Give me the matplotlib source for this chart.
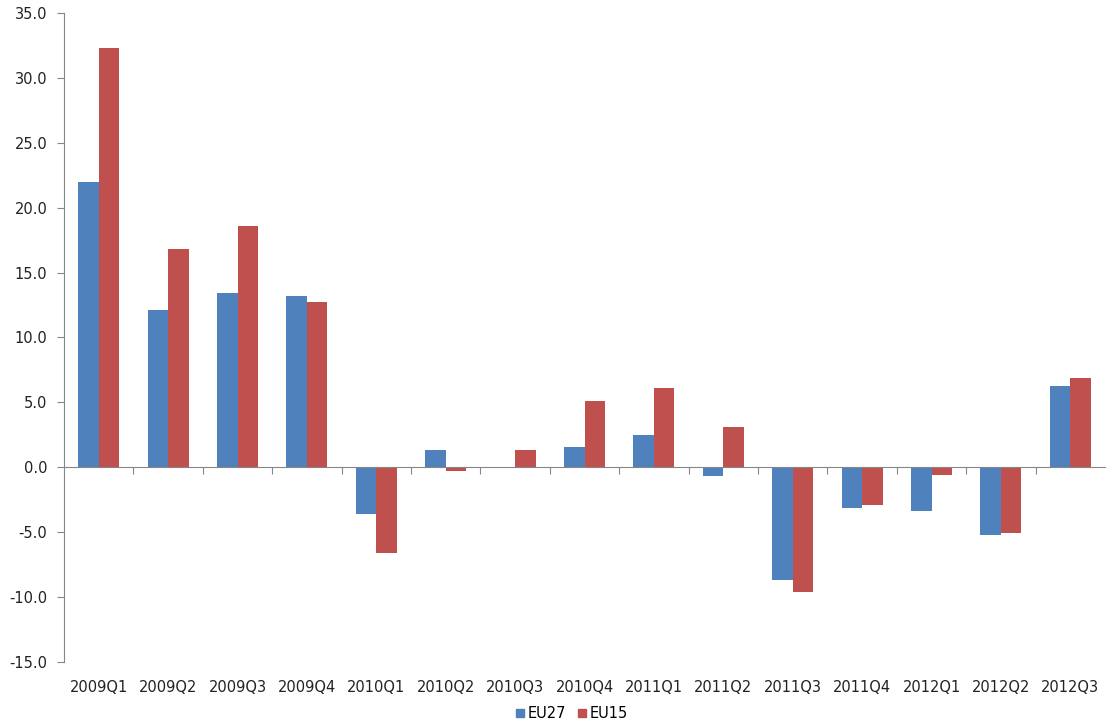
import numpy as np
import matplotlib
matplotlib.use("Agg")
import matplotlib.pyplot as plt
from matplotlib.lines import Line2D

plt.rcParams["font.family"] = ["DejaVu Sans"]

# quarterly values
quarters = ["2009Q1", "2009Q2", "2009Q3", "2009Q4", "2010Q1", "2010Q2", "2010Q3",
            "2010Q4", "2011Q1", "2011Q2", "2011Q3", "2011Q4", "2012Q1", "2012Q2", "2012Q3"]
eu27 = [22.0, 12.1, 13.4, 13.2, -3.6, 1.3, 0.0, 1.6, 2.5, -0.7, -8.7, -3.1, -3.4, -5.2, 6.3]
eu15 = [32.3, 16.8, 18.6, 12.7, -6.6, -0.3, 1.3, 5.1, 6.1, 3.1, -9.6, -2.9, -0.6, -5.1, 6.9]
series_names = ["EU27", "EU15"]
yticks = np.arange(-15, 36, 5)

blue = "#4F81BD"
red = "#C0504D"
axis_grey = "#868686"

fig = plt.figure(figsize=(11.12, 7.23), dpi=100)
ax = fig.add_axes([0.0576, 0.0844, 0.9361, 0.8976])

x = np.arange(len(quarters))
w = 0.295
ax.bar(x - w / 2, eu27, width=w, color=blue, edgecolor="none", zorder=2)
ax.bar(x + w / 2, eu15, width=w, color=red, edgecolor="none", zorder=2)

ax.set_xlim(-0.5, len(quarters) - 0.5)
ax.set_ylim(-15, 35)
ax.set_yticks(yticks)
ax.set_yticklabels([f"{v:.1f}" for v in yticks], fontsize=10.5, color="#222222")
ax.tick_params(axis="y", direction="out", length=5, color=axis_grey, pad=7)

# horizontal axis sits on zero, with ticks at the category boundaries
ax.spines["bottom"].set_position(("data", 0))
ax.spines["bottom"].set_color(axis_grey)
ax.spines["left"].set_color(axis_grey)
ax.spines["top"].set_visible(False)
ax.spines["right"].set_visible(False)
ax.set_xticks(np.arange(0.5, len(quarters) - 0.5, 1.0))
ax.set_xticklabels([])
ax.tick_params(axis="x", direction="out", length=5, color=axis_grey)

# category labels go below the plot (low position)
trans = matplotlib.transforms.blended_transform_factory(ax.transData, ax.transAxes)
for xi, q in zip(x, quarters):
    ax.text(xi, -0.039, q, transform=trans, ha="center", va="center",
            fontsize=10.5, color="#222222")

handles = [Line2D([], [], marker="s", linestyle="none", markersize=6,
                  markerfacecolor=c, markeredgecolor=c) for c in (blue, red)]
fig.legend(handles, series_names, loc="center", bbox_to_anchor=(0.513, 0.013),
           ncol=2, frameon=False, fontsize=10.5, handletextpad=0.0,
           columnspacing=0.6, handlelength=1.0)

fig.savefig("out.png", dpi=100)
